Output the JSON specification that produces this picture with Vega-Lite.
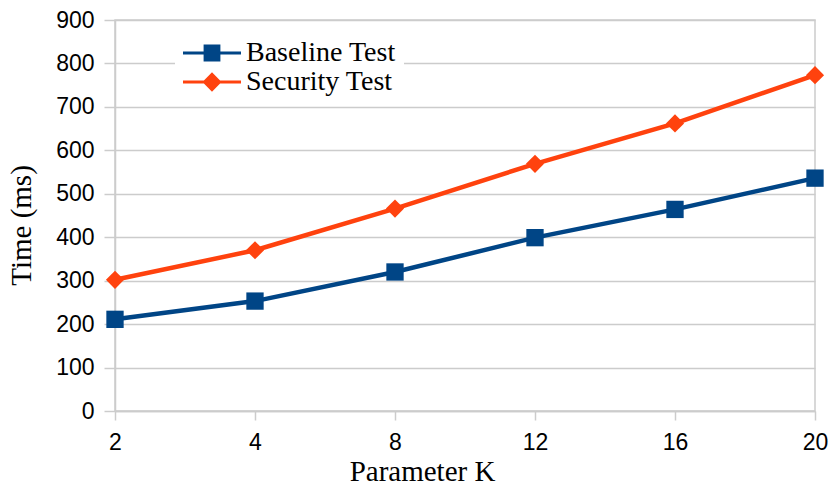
{
  "$schema": "https://vega.github.io/schema/vega-lite/v6.json",
  "autosize": "none",
  "width": 700,
  "height": 391,
  "padding": {"left": 115, "top": 20, "right": 16, "bottom": 76},
  "background": "white",
  "config": {
    "view": {"stroke": "#cccccc", "strokeWidth": 1.5},
    "axis": {
      "labelFont": "Liberation Sans",
      "labelFontSize": 23,
      "labelColor": "#000000",
      "titleFont": "Liberation Serif",
      "titleFontSize": 29,
      "titleFontWeight": "normal",
      "titleColor": "#000000",
      "domainColor": "#cccccc",
      "domainWidth": 1.5,
      "tickColor": "#cccccc",
      "tickWidth": 1.5,
      "gridColor": "#cccccc",
      "gridWidth": 1.5
    }
  },
  "data": {
    "values": [
      {"K": 2, "series": "Baseline Test", "time": 211},
      {"K": 4, "series": "Baseline Test", "time": 253},
      {"K": 8, "series": "Baseline Test", "time": 320},
      {"K": 12, "series": "Baseline Test", "time": 399},
      {"K": 16, "series": "Baseline Test", "time": 464},
      {"K": 20, "series": "Baseline Test", "time": 536},
      {"K": 2, "series": "Security Test", "time": 302},
      {"K": 4, "series": "Security Test", "time": 370},
      {"K": 8, "series": "Security Test", "time": 466},
      {"K": 12, "series": "Security Test", "time": 569},
      {"K": 16, "series": "Security Test", "time": 662},
      {"K": 20, "series": "Security Test", "time": 773}
    ]
  },
  "encoding": {
    "x": {
      "field": "K",
      "type": "ordinal",
      "scale": {"type": "point", "padding": 0},
      "axis": {
        "title": "Parameter K",
        "labelAngle": 0,
        "tickSize": 9,
        "labelPadding": 11,
        "titlePadding": 3,
        "titleX": 307,
        "grid": false
      }
    },
    "y": {
      "field": "time",
      "type": "quantitative",
      "scale": {"domain": [0, 900], "nice": false},
      "axis": {
        "title": "Time (ms)",
        "values": [0, 100, 200, 300, 400, 500, 600, 700, 800, 900],
        "tickSize": 11,
        "labelPadding": 10,
        "grid": true,
        "titleX": -79,
        "titleY": 205,
        "titleAngle": -90
      }
    },
    "color": {
      "field": "series",
      "type": "nominal",
      "scale": {"domain": ["Baseline Test", "Security Test"], "range": ["#004586", "#ff420e"]},
      "legend": {
        "title": null,
        "orient": "none",
        "legendX": 60,
        "legendY": 10.5,
        "padding": 8,
        "fillColor": "white",
        "strokeColor": null,
        "labelFont": "Liberation Serif",
        "labelFontSize": 28,
        "labelColor": "#000000",
        "labelOffset": 5,
        "symbolSize": 3364,
        "symbolStrokeWidth": 0,
        "clipHeight": 29,
        "rowPadding": 0,
        "encode": {
          "symbols": {
            "enter": {
              "shape": {"signal": "datum.value === 'Baseline Test' ? 'M-1,-0.055H1V0.055H-1Z M-0.29,-0.29H0.29V0.29H-0.29Z' : 'M-1,-0.055H1V0.055H-1Z M0,-0.34L0.33,0L0,0.34L-0.33,0Z'"}
            },
            "update": {
              "shape": {"signal": "datum.value === 'Baseline Test' ? 'M-1,-0.055H1V0.055H-1Z M-0.29,-0.29H0.29V0.29H-0.29Z' : 'M-1,-0.055H1V0.055H-1Z M0,-0.34L0.33,0L0,0.34L-0.33,0Z'"},
              "fill": {"signal": "datum.value === 'Baseline Test' ? '#004586' : '#ff420e'"},
              "fillOpacity": {"value": 1},
              "opacity": {"value": 1},
              "stroke": {"value": "transparent"},
              "strokeWidth": {"value": 0}
            }
          }
        }
      }
    }
  },
  "layer": [
    {"mark": {"type": "line", "strokeWidth": 4.5}},
    {
      "transform": [{"filter": "datum.series === 'Baseline Test'"}],
      "mark": {"type": "point", "filled": true, "opacity": 1, "size": 300, "shape": "square"}
    },
    {
      "transform": [{"filter": "datum.series === 'Security Test'"}],
      "mark": {"type": "point", "filled": true, "opacity": 1, "size": 330, "shape": "diamond"}
    }
  ]
}
